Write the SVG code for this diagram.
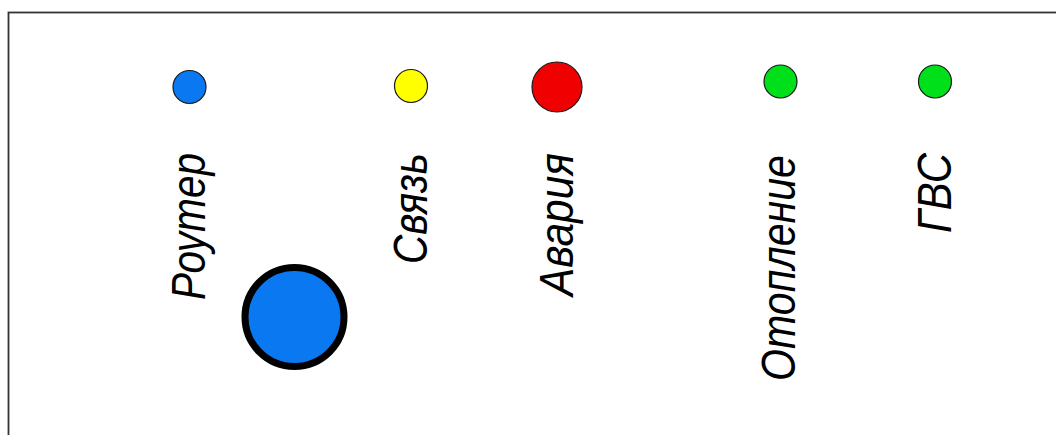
<svg xmlns="http://www.w3.org/2000/svg" width="1056" height="435" viewBox="0 0 1056 435">
<style>
.lbl{font-family:"Liberation Sans",Arial,sans-serif;font-style:italic;font-size:49px;fill:#000}
.led{stroke:#1a1a1a;stroke-width:1.2}
</style>
<rect x="0" y="0" width="1056" height="435" fill="#fff"/>
<rect id="frame" x="8.5" y="12.5" width="1060" height="440" fill="none" stroke="#333" stroke-width="1.8"/>
<g id="connectors"></g>
<g id="router">
<circle class="led" cx="189.5" cy="87" r="16.5" fill="#0a78f0"/>
<text class="lbl" transform="translate(205,300) rotate(-90)" textLength="147" lengthAdjust="spacingAndGlyphs">Роутер</text>
</g>
<g id="svyaz">
<circle class="led" cx="411" cy="86" r="16.5" fill="#ffff00"/>
<text class="lbl" transform="translate(427,264) rotate(-90)" textLength="111" lengthAdjust="spacingAndGlyphs">Связь</text>
</g>
<g id="avaria">
<circle class="led" cx="557" cy="87" r="25" fill="#f00000"/>
<text class="lbl" transform="translate(573,296) rotate(-90)" textLength="143" lengthAdjust="spacingAndGlyphs">Авария</text>
</g>
<g id="otoplenie">
<circle class="led" cx="780.5" cy="81.5" r="16.5" fill="#00e01a"/>
<text class="lbl" transform="translate(795,381) rotate(-90)" textLength="226" lengthAdjust="spacingAndGlyphs">Отопление</text>
</g>
<g id="gvs">
<circle class="led" cx="935" cy="81.5" r="16.5" fill="#00e01a"/>
<text class="lbl" transform="translate(951,233) rotate(-90)" textLength="80" lengthAdjust="spacingAndGlyphs">ГВС</text>
</g>
<g id="button">
<circle cx="294.5" cy="317" r="49.5" fill="#0a78f0" stroke="#000" stroke-width="7"/>
</g>
</svg>
